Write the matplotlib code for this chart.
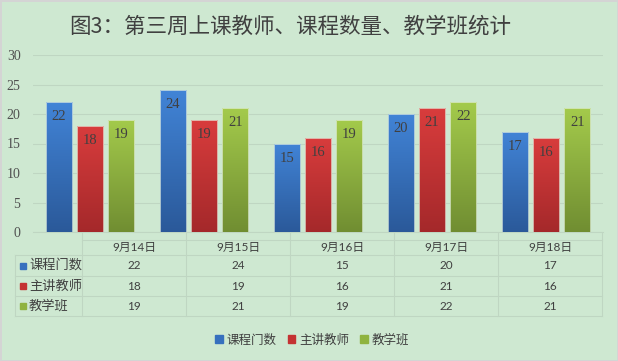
import numpy as np
import matplotlib
matplotlib.use('Agg')
import matplotlib.pyplot as plt
from matplotlib.colors import LinearSegmentedColormap
from matplotlib.lines import Line2D
from matplotlib.patches import Rectangle

plt.rcParams['font.family'] = ['Noto Sans CJK SC', 'DejaVu Sans']

dates = ['9月14日', '9月15日', '9月16日', '9月17日', '9月18日']
courses = [22, 24, 15, 20, 17]
teachers = [18, 19, 16, 21, 16]
classes = [19, 21, 19, 22, 21]
series_names = ['课程门数', '主讲教师', '教学班']
series = [courses, teachers, classes]

# (top, bottom) of each bar gradient
grads = [('#4285d8', '#2a5898'), ('#da3d3d', '#a3282a'), ('#a5cc4c', '#6f8c31')]
solid = ['#3670be', '#c43232', '#8fb33f']

bg = '#cee8d1'
grid_c = '#bfd6c2'
txt = '#404040'

W, H = 618, 361
fig = plt.figure(figsize=(W / 100, H / 100), dpi=100, facecolor=bg)
fig.patch.set_edgecolor('#d4d4d4')
fig.patch.set_linewidth(2)

def fx(px):
    return px / W

def fy(py):
    return 1 - py / H

ax = fig.add_axes([fx(33), fy(232), fx(603) - fx(33), fy(55) - fy(232)])
ax.set_facecolor(bg)

x = np.arange(len(dates))
width = 0.23
offsets = [-0.275, 0.0, 0.275]
ramp = np.linspace(0, 1, 256).reshape(-1, 1)

for vals, off, (top, bot), name in zip(series, offsets, grads, series_names):
    cmap = LinearSegmentedColormap.from_list(name, [bot, top])
    bars = ax.bar(x + off, vals, width, color='none', edgecolor='none', zorder=4)
    for b, v in zip(bars, vals):
        x0 = b.get_x()
        im = ax.imshow(ramp, cmap=cmap, origin='lower', aspect='auto',
                       extent=[x0 - 0.05, x0 + b.get_width() + 0.05, -0.5, v + 0.5],
                       zorder=3)
        im.set_clip_path(b)
        ax.add_patch(Rectangle((x0, 0), b.get_width(), v, fill=False,
                               edgecolor='#e4f0e0', linewidth=0.6, alpha=0.8, zorder=4))
        ax.annotate(str(v), (b.get_x() + b.get_width() / 2, v),
                    xytext=(0, -10.5), textcoords='offset points',
                    ha='center', va='center', fontsize=10.5, color=txt,
                    family=['Liberation Serif'], zorder=5)

ax.set_xlim(-0.5, len(dates) - 0.5)
ax.set_ylim(0, 30)
ax.set_yticks(range(0, 31, 5))
ax.set_xticks([])
ax.yaxis.grid(True, color=grid_c, linewidth=0.8)
ax.set_axisbelow(True)
for s in ['top', 'right', 'left']:
    ax.spines[s].set_visible(False)
ax.spines['bottom'].set_color(grid_c)
ax.tick_params(axis='y', length=0, pad=9, labelsize=10, labelcolor='#505050')
for lab in ax.get_yticklabels():
    lab.set_family(['Liberation Serif'])

# data table under the chart
col_edges = [82 + 104 * i for i in range(len(dates) + 1)]
row_edges = [240, 255, 276, 296, 316]
lw = 0.8
for cx in col_edges:
    fig.add_artist(Line2D([fx(cx), fx(cx)], [fy(233), fy(316)], color=grid_c, lw=lw))
fig.add_artist(Line2D([fx(15), fx(15)], [fy(255), fy(316)], color=grid_c, lw=lw))
fig.add_artist(Line2D([fx(82), fx(602)], [fy(240), fy(240)], color=grid_c, lw=lw))
for ry in row_edges[1:]:
    fig.add_artist(Line2D([fx(15), fx(602)], [fy(ry), fy(ry)], color=grid_c, lw=lw))

for i, d in enumerate(dates):
    cx = (col_edges[i] + col_edges[i + 1]) / 2
    fig.text(fx(cx), fy(247.5), d, ha='center', va='center', fontsize=8.5,
             color=txt, family=['Lato', 'Noto Sans CJK SC'])
    for r, vals in enumerate(series):
        cy = (row_edges[r + 1] + row_edges[r + 2]) / 2
        fig.text(fx(cx), fy(cy), str(vals[i]), ha='center', va='center',
                 fontsize=8.5, color=txt, family=['Lato'])

for r, name in enumerate(series_names):
    cy = (row_edges[r + 1] + row_edges[r + 2]) / 2
    fig.add_artist(Rectangle((fx(20), fy(cy + 3)), fx(6), fy(0) - fy(6),
                             color=solid[r], transform=fig.transFigure))
    fig.text(fx(29), fy(cy), name, ha='left', va='center', fontsize=9.5, color=txt)

# legend
handles = [Rectangle((0, 0), 1, 1, color=c) for c in solid]
fig.legend(handles, series_names, loc='center', bbox_to_anchor=(fx(312), fy(340)),
           ncol=3, frameon=False, fontsize=9, handlelength=0.6, handleheight=0.6,
           handletextpad=0.3, columnspacing=0.9, labelcolor=txt)

fig.text(fx(290), fy(27), '图3：第三周上课教师、课程数量、教学班统计',
         ha='center', va='center', fontsize=15.5, color=txt)

fig.savefig('out.png', dpi=100, facecolor=bg, edgecolor=fig.get_edgecolor())
